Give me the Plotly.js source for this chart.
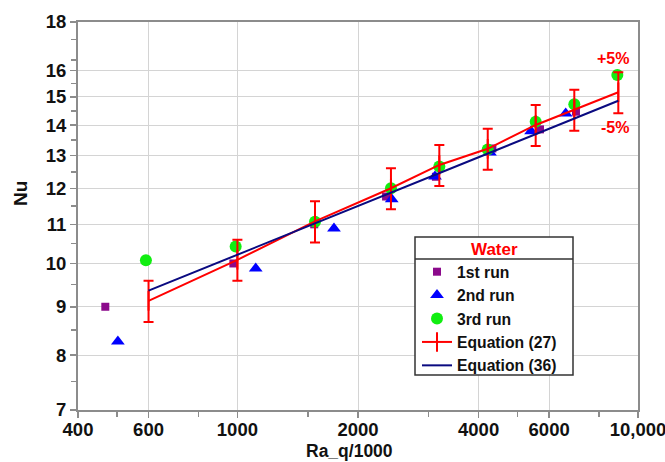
<!DOCTYPE html>
<html>
<head>
<meta charset="utf-8">
<script src="https://cdn.plot.ly/plotly-3.0.1.min.js"></script>
<style>html,body{margin:0;padding:0;background:#fff;}#chart{width:665px;height:462px;}</style>
</head>
<body>
<div id="chart"></div>
<script>
// ---- data ----
const run1_x = [468, 977, 1555, 2350, 3130, 4330, 5694, 7001];
const run1_y = [9.0, 10.0, 11.0, 11.77, 12.35, 13.23, 13.86, 14.47];

const run2_x = [503, 1111, 1742, 2428, 3113, 4270, 5408, 6600];
const run2_y = [8.27, 9.88, 10.89, 11.69, 12.36, 13.1, 13.8, 14.41];

const run3_x = [591, 990, 1562, 2417, 3192, 4216, 5554, 6934, 8880];
const run3_y = [10.08, 10.42, 11.07, 12.01, 12.66, 13.2, 14.12, 14.73, 15.82];

const eq27_x = [600, 1000, 1562, 2417, 3192, 4216, 5554, 6934, 8930];
const eq27_y = [9.13, 10.09, 11.08, 12.01, 12.71, 13.22, 14.01, 14.54, 15.17];
const eq27_errPercent = 5;

const eq36_x = [600, 1000, 2000, 4000, 8930];
const eq36_y = [9.36, 10.21, 11.50, 12.95, 14.86];

const xTickVals = [400, 600, 1000, 2000, 4000, 6000, 10000];
const xTickText = ['400', '600', '1000', '2000', '4000', '6000', '10,000'];
const xMinorVals = [500, 800, 1500, 3000, 5000, 8000];
const yTickVals = [7, 8, 9, 10, 11, 12, 13, 14, 15, 16, 18];
const yTickText = ['7', '8', '9', '10', '11', '12', '13', '14', '15', '16', '18'];
const yMinorVals = [7.5, 8.5, 9.5, 10.5, 11.5, 12.5, 13.5, 14.5, 15.5, 16.4, 17.25];

const legendTitle = 'Water';

const FONT = 'Liberation Sans, Arial, Helvetica, sans-serif';
const RED = '#ff0000';

const traces = [
  {x: run1_x, y: run1_y, name: '1st run', type: 'scatter', mode: 'markers',
   marker: {symbol: 'square', size: 8, color: '#8b0a8b'}},
  {x: run2_x, y: run2_y, name: '2nd run', type: 'scatter', mode: 'markers',
   marker: {symbol: 'triangle-up', size: 12, color: '#0000ff'}},
  {x: run3_x, y: run3_y, name: '3rd run', type: 'scatter', mode: 'markers',
   marker: {symbol: 'circle', size: 12, color: '#11ee11'}},
  {x: eq27_x, y: eq27_y, name: 'Equation (27)', type: 'scatter', mode: 'lines+markers',
   line: {color: RED, width: 2},
   marker: {symbol: 'line-ns', size: 14, color: RED, line: {color: RED, width: 2}},
   error_y: {type: 'percent', value: eq27_errPercent, color: RED, thickness: 2, width: 5}},
  {x: eq36_x, y: eq36_y, name: 'Equation (36)', type: 'scatter', mode: 'lines',
   line: {color: '#0a0a80', width: 2}}
];

const axisCommon = {
  type: 'log',
  showline: true, linecolor: '#8c8c8c', linewidth: 2, mirror: true,
  ticks: 'outside', ticklen: 6, tickwidth: 1.5, tickcolor: '#8c8c8c',
  showgrid: true, gridcolor: '#d4d4d4', gridwidth: 1,
  zeroline: false,
  tickfont: {family: FONT, size: 18.5, color: '#111', weight: 'bold'},
  tickmode: 'array',
  ticklabeloverflow: 'allow'
};

// legend box in paper fractions (plot area 78..638 x 22..410 px)
const px2x = p => (p - 78) / 560;
const px2y = p => 1 - (p - 22) / 388;

const layout = {
  width: 665, height: 462,
  margin: {l: 78, r: 27, t: 22, b: 52},
  paper_bgcolor: '#ffffff', plot_bgcolor: '#ffffff',
  showlegend: true,
  xaxis: Object.assign({}, axisCommon, {
    range: [Math.log10(400), 4],
    tickvals: xTickVals, ticktext: xTickText,
    ticklabelstandoff: -4,
    minor: {tickvals: xMinorVals, ticks: 'outside', ticklen: 5, tickcolor: '#8c8c8c', showgrid: false}
  }),
  yaxis: Object.assign({}, axisCommon, {
    range: [Math.log10(7), Math.log10(18)],
    tickvals: yTickVals, ticktext: yTickText,
    minor: {tickvals: yMinorVals, ticks: 'outside', ticklen: 5, tickcolor: '#8c8c8c', showgrid: false}
  }),
  legend: {
    x: px2x(417), y: px2y(255), xanchor: 'left', yanchor: 'top',
    bgcolor: 'rgba(0,0,0,0)', borderwidth: 0,
    font: {family: FONT, size: 15.7, color: '#111', weight: 'bold'}
  },
  annotations: [
    {text: 'Nu', xref: 'paper', yref: 'paper', x: -0.1036, y: 0.559, textangle: -90,
     showarrow: false, xanchor: 'center', yanchor: 'middle',
     font: {family: FONT, size: 19, color: '#111', weight: 'bold'}},
    {text: 'Ra_q/1000', xref: 'paper', yref: 'paper', x: 0.484, y: px2y(451),
     showarrow: false, xanchor: 'center', yanchor: 'middle',
     font: {family: FONT, size: 17.5, color: '#111', weight: 'bold'}},
    {text: '+5%', xref: 'paper', yref: 'paper', x: 0.955, y: 0.905,
     showarrow: false, xanchor: 'center', yanchor: 'middle',
     font: {family: FONT, size: 16, color: RED, weight: 'bold'}},
    {text: '-5%', xref: 'paper', yref: 'paper', x: 0.959, y: 0.727,
     showarrow: false, xanchor: 'center', yanchor: 'middle',
     font: {family: FONT, size: 16, color: RED, weight: 'bold'}},
    {text: legendTitle, xref: 'paper', yref: 'paper', x: px2x(494), y: px2y(249),
     showarrow: false, xanchor: 'center', yanchor: 'middle',
     font: {family: FONT, size: 17, color: RED, weight: 'bold'}}
  ],
  shapes: [
    {type: 'rect', xref: 'paper', yref: 'paper', x0: px2x(415), x1: px2x(573), y0: px2y(237), y1: px2y(375),
     fillcolor: '#ffffff', line: {color: '#333333', width: 1.5}, layer: 'above'},
    {type: 'line', xref: 'paper', yref: 'paper', x0: px2x(415), x1: px2x(573), y0: px2y(259), y1: px2y(259),
     line: {color: '#333333', width: 1.5}, layer: 'above'}
  ]
};

Plotly.newPlot('chart', traces, layout, {displayModeBar: false, staticPlot: true});
</script>
</body>
</html>
